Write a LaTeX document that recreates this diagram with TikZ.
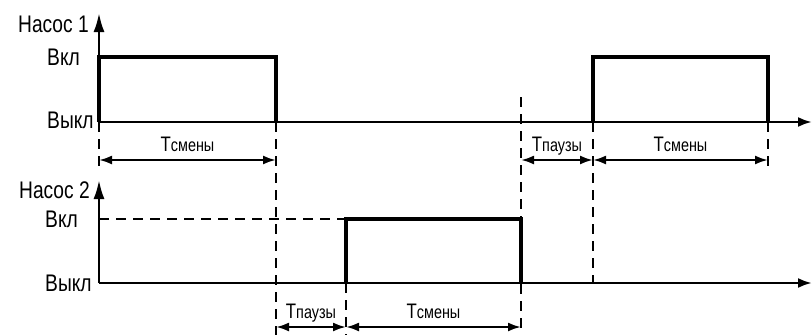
\documentclass[tikz,border=0pt]{standalone}
\usepackage{fontspec}
\setmainfont{Liberation Sans}[FakeStretch=0.8]
\usetikzlibrary{arrows.meta}

\newcommand{\tsub}[1]{T{\fontsize{18}{18}\selectfont #1}}

\begin{document}
\begin{tikzpicture}[x=1pt,y=-1pt,
    axis/.style={line width=2.5pt,-{Latex[length=19pt,width=11pt]}},
    haxis/.style={line width=2.5pt,-{Latex[length=14pt,width=10pt]}},
    signal/.style={line width=4.8pt,line join=miter},
    guide/.style={line width=1.5pt,dash pattern=on 10pt off 7pt},
    span/.style={line width=2.2pt,{Latex[length=13pt,width=9pt]}-{Latex[length=13pt,width=9pt]}},
    txt/.style={font=\fontsize{24}{24}\selectfont,inner sep=0pt},
    spanlabel/.style={font=\fontsize{21}{21}\selectfont,inner sep=0pt,midway,anchor=base,yshift=9pt}]
    \useasboundingbox (0,0) rectangle (812,335);

    % time marks on the two arrow rows
    \foreach \n/\x in {a/99,b/276,c/346,d/521,e/593,f/768} {
        \coordinate (\n1) at (\x,160);
        \coordinate (\n2) at (\x,327);
    }
    \coordinate (o1) at (99,122);
    \coordinate (o2) at (99,283);

    % dashed guides
    \draw[guide] (99,122) -- (99,166);
    \draw[guide] (276,122) -- (276,335);
    \draw[guide] (346,283) -- (346,335);
    \draw[guide] (521,97) -- (521,335);
    \draw[guide] (593,122) -- (593,283);
    \draw[guide] (768,122) -- (768,166);
    \draw[guide] (99,219) -- (346,219);

    % pump 1
    \draw[axis] (o1) -- (99,13);
    \draw[haxis] (o1) -- (812,122);
    \draw[signal] (o1) |- (276,57) -- (276,122);
    \draw[signal] (593,122) |- (768,57) -- (768,122);
    \node[txt,anchor=base east] (p1) at (89,32) {Насос 1};
    \node[txt,anchor=base west] (on1) at (47,65) {Вкл};
    \node[txt,anchor=base west] (off1) at (47,128) {Выкл};

    % pump 2
    \draw[axis] (o2) -- (99,180);
    \draw[haxis] (o2) -- (812,283);
    \draw[signal] (346,283) |- (521,219) -- (521,283);
    \node[txt,anchor=base east] (p2) at (90,198) {Насос 2};
    \node[txt,anchor=base west] (on2) at (45,227) {Вкл};
    \node[txt,anchor=base west] (off2) at (45,291) {Выкл};

    % time spans
    \draw[span] (a1) -- (b1) node[spanlabel] (sw1) {\tsub{смены}};
    \draw[span] (d1) -- (e1) node[spanlabel] (ps1) {\tsub{паузы}};
    \draw[span] (e1) -- (f1) node[spanlabel] (sw2) {\tsub{смены}};
    \draw[span] (b2) -- (c2) node[spanlabel] (ps2) {\tsub{паузы}};
    \draw[span] (c2) -- (d2) node[spanlabel] (sw3) {\tsub{смены}};
\end{tikzpicture}
\end{document}
